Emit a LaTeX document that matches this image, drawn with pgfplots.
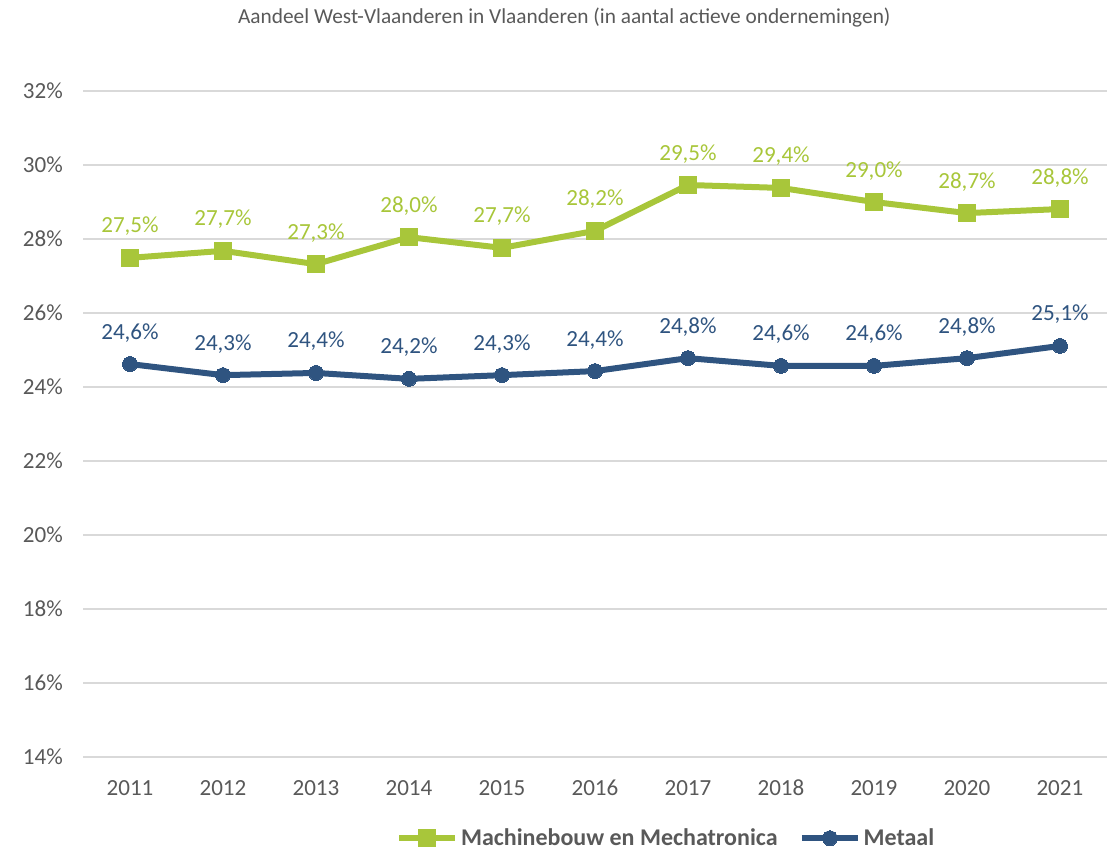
\documentclass[border=0pt]{standalone}
\usepackage{fontspec}
\setmainfont{Carlito}
\usepackage{pgfplots}
\pgfplotsset{compat=1.18}
\definecolor{mgreen}{RGB}{168,198,58}
\definecolor{mblue}{RGB}{47,84,128}
\definecolor{tgray}{RGB}{89,89,89}
\definecolor{ggray}{RGB}{217,217,217}
\begin{document}
\begin{tikzpicture}
\useasboundingbox (0,0) rectangle (831pt,640.5pt);
\begin{axis}[
  at={(62.625pt,72.75pt)}, anchor=south west,
  scale only axis, width=767.25pt, height=499.5pt,
  xmin=2010.5, xmax=2021.5, ymin=14, ymax=32,
  xtick={2011,...,2021}, ytick={14,16,...,32},
  xticklabel style={/pgf/number format/1000 sep={}},
  yticklabel={\pgfmathprintnumber{\tick}\%},
  /pgf/number format/assume math mode=true,
  ticklabel style={font=\fontsize{17.3}{20}\selectfont, text=tgray},
  xticklabel style={anchor=base, yshift=-29pt},
  yticklabel style={xshift=-12pt},
  axis line style={draw=none},
  major tick length=0pt,
  ymajorgrids, major grid style={ggray, line width=1.2pt},
  title={Aandeel West-Vlaanderen in Vlaanderen (in aantal actieve ondernemingen)},
  title style={at={(0.47,1)}, anchor=center, yshift=48.75pt, font=\fontsize{16}{19}\selectfont, text=tgray},
  legend style={at={(0.57,-0.122)}, anchor=center, draw=none, fill=none,
    legend columns=2, font=\bfseries\fontsize{18}{21}\selectfont, text=tgray,
    inner sep=1pt,
    /tikz/every even column/.append style={column sep=14pt}},
  legend image code/.code={\draw[mark repeat=2,mark phase=2,#1] plot coordinates {(0pt,0pt) (21pt,0pt) (42pt,0pt)};},
  nodes near coords, point meta=explicit symbolic,
  nodes near coords style={anchor=center, yshift=23.5pt, font=\fontsize{17.3}{20}\selectfont},
  clip=false,
]
\addplot[mgreen, line width=4.5pt, mark=square*, mark size=6.4pt, mark options={line width=0pt}, every node near coord/.append style={text=mgreen}]
 coordinates {(2011,27.49)[27,5\%] (2012,27.68)[27,7\%] (2013,27.32)[27,3\%] (2014,28.05)[28,0\%] (2015,27.76)[27,7\%] (2016,28.22)[28,2\%] (2017,29.46)[29,5\%] (2018,29.38)[29,4\%] (2019,29.00)[29,0\%] (2020,28.70)[28,7\%] (2021,28.81)[28,8\%]};
\addlegendentry{Machinebouw en Mechatronica}
\addplot[mblue, line width=4.5pt, mark=*, mark size=5.6pt, mark options={line width=0pt}, every node near coord/.append style={text=mblue}]
 coordinates {(2011,24.62)[24,6\%] (2012,24.32)[24,3\%] (2013,24.38)[24,4\%] (2014,24.22)[24,2\%] (2015,24.32)[24,3\%] (2016,24.43)[24,4\%] (2017,24.78)[24,8\%] (2018,24.57)[24,6\%] (2019,24.57)[24,6\%] (2020,24.78)[24,8\%] (2021,25.11)[25,1\%]};
\addlegendentry{Metaal}
\end{axis}
\end{tikzpicture}
\end{document}
